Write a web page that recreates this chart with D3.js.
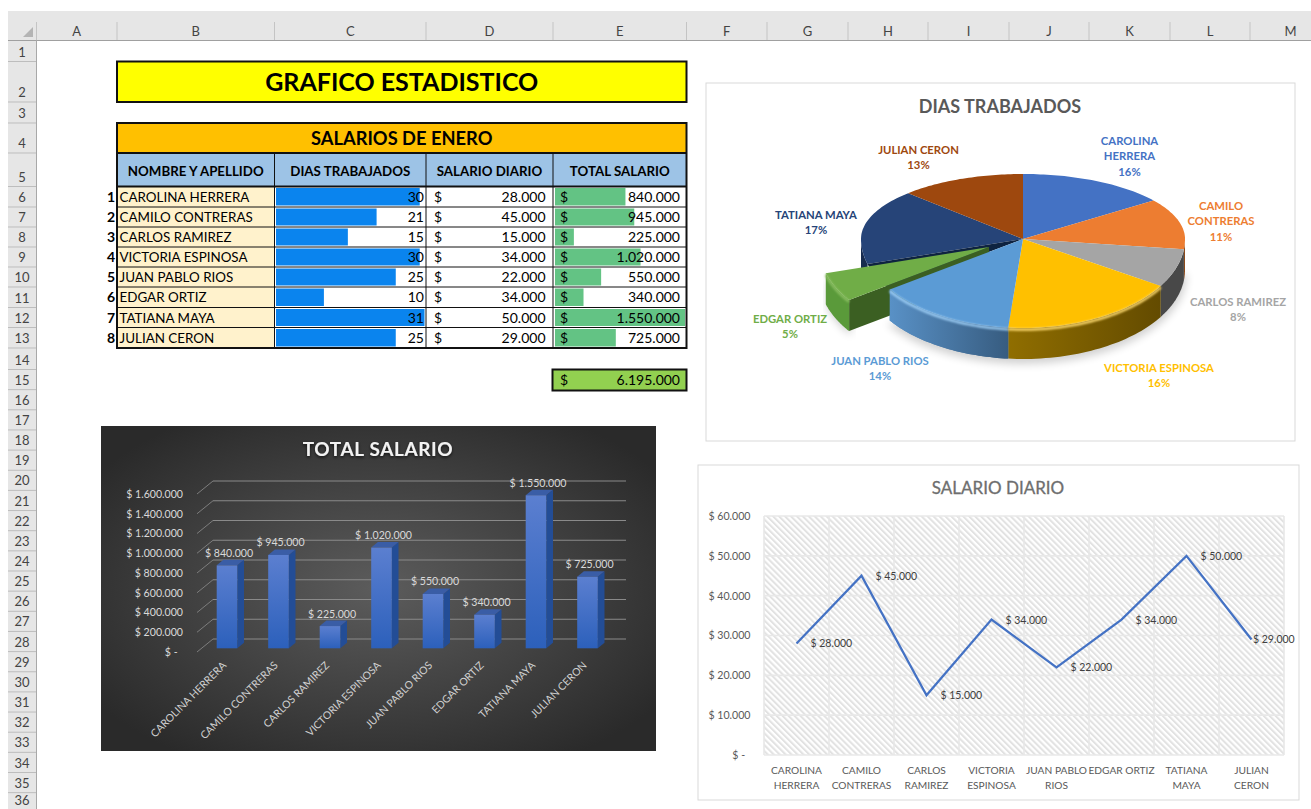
<!DOCTYPE html>
<html>
<head>
<meta charset="utf-8">
<script src="https://cdn.jsdelivr.net/npm/d3@7"></script>
<style>
  html, body { margin: 0; padding: 0; background: #fff; overflow: hidden; }
  text { font-family: Lato, "Open Sans", sans-serif; }
</style>
</head>
<body>
<div id="sheet"></div>
<script>
// Values read from the worksheet
const names = ["CAROLINA HERRERA", "CAMILO CONTRERAS", "CARLOS RAMIREZ", "VICTORIA ESPINOSA",
               "JUAN PABLO RIOS", "EDGAR ORTIZ", "TATIANA MAYA", "JULIAN CERON"];
const diasTrabajados = [30, 21, 15, 30, 25, 10, 31, 25];
const salarioDiario = [28000, 45000, 15000, 34000, 22000, 34000, 50000, 29000];
const totalSalario = [840000, 945000, 225000, 1020000, 550000, 340000, 1550000, 725000];
const granTotal = 6195000;
const tableHeaders = ["NOMBRE Y APELLIDO", "DIAS TRABAJADOS", "SALARIO DIARIO", "TOTAL SALARIO"];
const piePercentLabels = ["16%", "11%", "8%", "16%", "14%", "5%", "17%", "13%"];
const pieNameLines = [["CAROLINA", "HERRERA"], ["CAMILO", "CONTRERAS"], ["CARLOS RAMIREZ"], ["VICTORIA ESPINOSA"],
                      ["JUAN PABLO RIOS"], ["EDGAR ORTIZ"], ["TATIANA MAYA"], ["JULIAN CERON"]];
const lineNameLines = [["CAROLINA", "HERRERA"], ["CAMILO", "CONTRERAS"], ["CARLOS", "RAMIREZ"], ["VICTORIA", "ESPINOSA"],
                       ["JUAN PABLO", "RIOS"], ["EDGAR ORTIZ"], ["TATIANA", "MAYA"], ["JULIAN", "CERON"]];
const totalTicks = [0, 200000, 400000, 600000, 800000, 1000000, 1200000, 1400000, 1600000];
const diarioTicks = [0, 10000, 20000, 30000, 40000, 50000, 60000];
const columnLetters = ["A", "B", "C", "D", "E", "F", "G", "H", "I", "J", "K", "L", "M"];

// Layout of the sheet
const colEdges = [36.5, 117, 274.5, 426, 553, 686.5, 767, 848, 928, 1009, 1089, 1170, 1250, 1331];
const rowEdges = [40, 61.5, 102, 123, 153, 186.5, 207, 227, 247, 267, 287, 307.5, 327.5, 348];
for (let i = 14; i <= 36; i++) rowEdges.push(369.5 + (i - 14) * 20.15);

const pieColors = ["#4472c4", "#ed7d31", "#a5a5a5", "#ffc000", "#5b9bd5", "#70ad47", "#264478", "#9e480e"];
const pieLabelPos = [[1129.5, 140], [1221, 205], [1238, 301], [1159, 367], [880, 360], [790, 318], [816, 214], [918.5, 149]];

const es = d3.formatLocale({ decimal: ",", thousands: ".", grouping: [3], currency: ["$ ", ""] });
const miles = es.format(",d");
const pesos = v => v === 0 ? "$ -\u00a0\u00a0" : "$ " + miles(v);

const svg = d3.select("#sheet").append("svg")
              .attr("width", 1311)
              .attr("height", 809)
              .style("display", "block");
const defs = svg.append("defs");

drawSheetHeaders();
drawTable();
drawPie();
drawBars();
drawLine();

function drawSheetHeaders() {
    const g = svg.append("g");
    g.append("rect").attr("x", 8).attr("y", 11).attr("width", 1303).attr("height", 29).attr("fill", "#e6e6e6");
    g.append("rect").attr("x", 8).attr("y", 40).attr("width", 28.5).attr("height", 769).attr("fill", "#e6e6e6");
    g.append("path").attr("d", "M33 27 L33 37 L23 37 Z").attr("fill", "#b4b4b4");

    // column letters and separators
    g.selectAll("line.col").data(colEdges).enter().append("line")
     .attr("x1", d => d).attr("x2", d => d).attr("y1", 22).attr("y2", 40)
     .attr("stroke", "#c4c4c4");
    g.selectAll("text.col").data(columnLetters).enter().append("text")
     .attr("x", (d, i) => (colEdges[i] + colEdges[i + 1]) / 2)
     .attr("y", 35.5).attr("text-anchor", "middle")
     .attr("font-size", 13).attr("fill", "#444").text(d => d);
    g.append("line").attr("x1", 8).attr("x2", 1311).attr("y1", 40.5).attr("y2", 40.5).attr("stroke", "#a0a0a0");

    // row numbers and separators, the last one is kept inside the window
    g.selectAll("line.row").data(rowEdges.slice(1)).enter().append("line")
     .attr("x1", 8).attr("x2", 36.5).attr("y1", d => d).attr("y2", d => d)
     .attr("stroke", "#bdbdbd");
    g.selectAll("text.row").data(d3.range(1, 37)).enter().append("text")
     .attr("x", 22).attr("y", (d, i) => Math.min(rowEdges[i + 1] - 5, 805))
     .attr("text-anchor", "middle").attr("font-size", 13).attr("fill", "#444").text(d => d);
    g.append("line").attr("x1", 36.5).attr("x2", 36.5).attr("y1", 40).attr("y2", 809).attr("stroke", "#a8a8a8");
}

function drawTable() {
    const g = svg.append("g");
    const left = colEdges[1], right = colEdges[5];

    g.append("rect").attr("x", left).attr("y", 61.5).attr("width", right - left).attr("height", 40.5)
     .attr("fill", "#ffff00").attr("stroke", "#111").attr("stroke-width", 2);
    g.append("text").attr("x", (left + right) / 2).attr("y", 91).attr("text-anchor", "middle")
     .attr("font-size", 25).attr("font-weight", 700).attr("fill", "#000").text("GRAFICO ESTADISTICO");

    g.append("rect").attr("x", left).attr("y", 123).attr("width", right - left).attr("height", 30)
     .attr("fill", "#ffc000");
    g.append("text").attr("x", (left + right) / 2).attr("y", 145).attr("text-anchor", "middle")
     .attr("font-size", 18.3).attr("font-weight", 700).attr("fill", "#000").text("SALARIOS DE ENERO");

    const headCols = tableHeaders.map((d, i) => ({ label: d, x0: colEdges[i + 1], x1: colEdges[i + 2] }));
    g.selectAll("rect.head").data(headCols).enter().append("rect")
     .attr("x", d => d.x0).attr("y", 153).attr("width", d => d.x1 - d.x0).attr("height", 33.5)
     .attr("fill", "#9dc3e6");
    g.selectAll("text.head").data(headCols).enter().append("text")
     .attr("x", d => (d.x0 + d.x1) / 2).attr("y", 175.5).attr("text-anchor", "middle")
     .attr("font-size", 13.3).attr("font-weight", 700).attr("fill", "#000").text(d => d.label);

    const rowY = i => rowEdges[i + 5];
    const rowH = i => rowEdges[i + 6] - rowEdges[i + 5];

    g.selectAll("rect.name").data(names).enter().append("rect")
     .attr("x", left).attr("y", (d, i) => rowY(i)).attr("width", colEdges[2] - left).attr("height", (d, i) => rowH(i))
     .attr("fill", "#fff2cc");

    // data bars inside the cells
    const diasX = d3.scaleLinear().domain([0, 31]).range([276, 424.5]);
    const totalX = d3.scaleLinear().domain([0, 1550000]).range([555, 685]);
    g.selectAll("rect.dias").data(diasTrabajados).enter().append("rect")
     .attr("x", diasX(0)).attr("y", (d, i) => rowY(i) + 1.5)
     .attr("width", d => diasX(d) - diasX(0)).attr("height", (d, i) => rowH(i) - 3)
     .attr("fill", "#0a84ee");
    g.selectAll("rect.total").data(totalSalario).enter().append("rect")
     .attr("x", totalX(0)).attr("y", (d, i) => rowY(i) + 1.5)
     .attr("width", d => totalX(d) - totalX(0)).attr("height", (d, i) => rowH(i) - 3)
     .attr("fill", "#63c384");

    const cellText = (data, x, anchor, weight, size, fmt) => g.append("g").selectAll("text").data(data).enter().append("text")
     .attr("x", x).attr("y", (d, i) => rowY(i) + 15)
     .attr("text-anchor", anchor).attr("font-size", size).attr("font-weight", weight)
     .attr("fill", "#000").text(fmt);

    cellText(names, 119.5, "start", 400, 13.4, d => d);
    cellText(names, 115, "end", 700, 14, (d, i) => i + 1);
    cellText(diasTrabajados, 424, "end", 400, 14, d => d);
    cellText(salarioDiario, 434, "start", 400, 14, () => "$");
    cellText(salarioDiario, 545.5, "end", 400, 14, d => miles(d));
    cellText(totalSalario, 560, "start", 400, 14, () => "$");
    cellText(totalSalario, 680, "end", 400, 14, d => miles(d));

    // grid of the table
    const gridColor = "#111";
    rowEdges.slice(6, 13).forEach(y => {
        g.append("line").attr("x1", left).attr("x2", right).attr("y1", y).attr("y2", y).attr("stroke", gridColor);
    });
    colEdges.slice(2, 5).forEach(x => {
        g.append("line").attr("x1", x).attr("x2", x).attr("y1", 153).attr("y2", 348).attr("stroke", gridColor);
    });
    g.append("line").attr("x1", left).attr("x2", right).attr("y1", 153).attr("y2", 153).attr("stroke", gridColor).attr("stroke-width", 2);
    g.append("line").attr("x1", left).attr("x2", right).attr("y1", 186.5).attr("y2", 186.5).attr("stroke", gridColor).attr("stroke-width", 2);
    g.append("rect").attr("x", left).attr("y", 123).attr("width", right - left).attr("height", 225)
     .attr("fill", "none").attr("stroke", "#111").attr("stroke-width", 2);

    // total cell
    g.append("rect").attr("x", 552.5).attr("y", 369.5).attr("width", 134).attr("height", 21)
     .attr("fill", "#92d050").attr("stroke", "#111").attr("stroke-width", 2);
    g.append("text").attr("x", 560).attr("y", 385).attr("font-size", 14).attr("fill", "#000").text("$");
    g.append("text").attr("x", 680).attr("y", 385).attr("text-anchor", "end").attr("font-size", 14).attr("fill", "#000").text(miles(granTotal));
}

function drawPie() {
    const g = svg.append("g");
    g.append("rect").attr("x", 706).attr("y", 83).attr("width", 589).attr("height", 358)
     .attr("fill", "#fff").attr("stroke", "#d9d9d9");
    g.append("text").attr("x", 1000).attr("y", 113).attr("text-anchor", "middle")
     .attr("font-size", 18).attr("font-weight", 700).attr("fill", "#595959").text("DIAS TRABAJADOS");

    const cx = 1023, cy = 239, rx = 162, ryBack = 65, ryFront = 89, depth = 31;
    const edgar = 5;
    const explode = [-34, 8], explodeR = 1.05;

    // perspective pulls the slice edges a little, depending on the quadrant
    const warp = a => {
        const deg = Math.PI / 180;
        if (a < Math.PI / 2) return a - 4.5 * deg * Math.sin(2 * a);
        if (a < Math.PI) return a - 5.5 * deg * Math.sin(2 * (a - Math.PI / 2));
        if (a < Math.PI * 1.5) return a + 2.5 * deg * Math.sin(2 * (a - Math.PI));
        return a + 3 * deg * Math.sin(2 * (a - Math.PI * 1.5));
    };
    // tilted pie: the near half of the disc is drawn taller than the far half
    const project = (a0, r = 1, off = [0, 0]) => {
        const a = warp(a0), c = Math.cos(a);
        return [cx + rx * r * Math.sin(a) + off[0], cy - c * (c > 0 ? ryBack : ryFront) * r + off[1]];
    };
    const arcPoints = (a0, a1, r, off) => d3.range(0, 41).map(k => project(a0 + (a1 - a0) * k / 40, r, off));
    const toPath = pts => "M" + pts.map(p => p[0].toFixed(1) + " " + p[1].toFixed(1)).join("L") + "Z";
    const topFace = (s, r, off = [0, 0]) => toPath([[cx + off[0], cy + off[1]], ...arcPoints(s.startAngle, s.endAngle, r, off)]);
    const wall = (a0, a1, r, off = [0, 0]) => {
        const pts = arcPoints(a0, a1, r, off);
        return toPath([...pts, ...pts.slice().reverse().map(p => [p[0], p[1] + depth])]);
    };

    const slices = d3.pie().sort(null)(diasTrabajados);

    const hGrad = (id, x0, x1, c0, c1) => {
        const lg = defs.append("linearGradient").attr("id", id).attr("gradientUnits", "userSpaceOnUse")
                       .attr("x1", x0).attr("x2", x1).attr("y1", 0).attr("y2", 0);
        lg.append("stop").attr("offset", 0).attr("stop-color", c0);
        lg.append("stop").attr("offset", 1).attr("stop-color", c1);
    };
    hGrad("wallJuan", 885, 1008, "#5a93c9", "#375c80");
    hGrad("wallYellow", 1008, 1165, "#906e00", "#624a00");
    defs.append("filter").attr("id", "soft").attr("x", "-20%").attr("y", "-20%").attr("width", "140%").attr("height", "140%")
        .append("feGaussianBlur").attr("stdDeviation", 4);
    defs.append("filter").attr("id", "rim").attr("x", "-10%").attr("y", "-10%").attr("width", "120%").attr("height", "120%")
        .append("feGaussianBlur").attr("stdDeviation", 0.9);

    // soft shadow under the disc
    const shadowArc = arcPoints(Math.PI / 2, Math.PI * 1.3, 1.01, [0, depth + 4]);
    g.append("path").attr("d", toPath(shadowArc)).attr("fill", "#000").attr("opacity", 0.18).attr("filter", "url(#soft)");

    const wallFill = ["#26457c", "#8c4a1a", "#484848", "url(#wallYellow)", "url(#wallJuan)", "#5a9a3a", "#172b4f", "#5f2b08"];
    const frontStart = Math.PI / 2;
    const frontEnd = Math.PI * 1.5;

    // far and side walls that stay behind the pulled out slice
    slices.forEach((s, i) => {
        if (i === edgar) return;
        const a0 = Math.max(s.startAngle, frontStart), a1 = Math.min(s.endAngle, frontEnd);
        if (a1 > a0) g.append("path").attr("d", wall(a0, a1, 1)).attr("fill", wallFill[i]);
    });

    slices.forEach((s, i) => {
        if (i === edgar || i === 4) return;
        g.append("path").attr("d", topFace(s, 1)).attr("fill", pieColors[i]);
    });

    // dark gap left by the pulled out slice
    g.append("path").attr("d", topFace(slices[edgar], 1)).attr("fill", "#0e2340");

    // pulled out slice: shadow, cut side, outer wall, top
    const sE = slices[edgar];
    const inner = [cx + explode[0], cy + explode[1]];
    const corner = project(sE.startAngle, explodeR, explode);
    g.append("path").attr("d", wall(sE.startAngle, sE.endAngle, explodeR, explode))
     .attr("fill", "#000").attr("opacity", 0.2).attr("filter", "url(#soft)").attr("transform", "translate(2,4)");
    g.append("path")
     .attr("d", toPath([inner, corner, [corner[0], corner[1] + depth], [inner[0], inner[1] + depth]]))
     .attr("fill", "#3b5f22");
    g.append("path").attr("d", wall(sE.startAngle, sE.endAngle, explodeR, explode)).attr("fill", wallFill[edgar]);
    g.append("path").attr("d", topFace(sE, explodeR, explode)).attr("fill", pieColors[edgar]);

    // juan sits on top of the green cut side
    const sJ = slices[4];
    g.append("path").attr("d", wall(sJ.startAngle, sJ.endAngle, 1)).attr("fill", wallFill[4]);
    g.append("path").attr("d", topFace(sJ, 1)).attr("fill", pieColors[4]);

    // bright bevel on the front rim
    const rimLine = d3.line();
    [[sJ, "#9ccdf5"], [slices[3], "#ffdb70"], [sE, "#8cc063"]].forEach(([s, c]) => {
        const isE = s === sE;
        g.append("path")
         .attr("d", rimLine(arcPoints(s.startAngle, s.endAngle, isE ? explodeR : 1, isE ? explode : [0, 0]).map(p => [p[0], p[1] + 1.5])))
         .attr("fill", "none").attr("stroke", c).attr("stroke-width", 2.5).attr("filter", "url(#rim)");
    });

    // labels
    const labels = g.selectAll("g.lab").data(names).enter().append("g");
    labels.each(function (d, i) {
        const lines = pieNameLines[i].concat(piePercentLabels[i]);
        d3.select(this).selectAll("text").data(lines).enter().append("text")
          .attr("x", pieLabelPos[i][0])
          .attr("y", (t, k) => pieLabelPos[i][1] + k * 15.6 + 4.5)
          .attr("text-anchor", "middle")
          .attr("font-size", 11.3).attr("font-weight", 700)
          .attr("fill", pieColors[i]).text(t => t);
    });
}

function drawBars() {
    const g = svg.append("g");
    const bg = defs.append("radialGradient").attr("id", "darkPanel").attr("cx", "50%").attr("cy", "50%").attr("r", "62%");
    bg.append("stop").attr("offset", 0).attr("stop-color", "#5c5c5c");
    bg.append("stop").attr("offset", 1).attr("stop-color", "#2a2a2a");
    const barGrad = defs.append("linearGradient").attr("id", "barFace").attr("x1", 0).attr("x2", 0).attr("y1", 0).attr("y2", 1);
    barGrad.append("stop").attr("offset", 0).attr("stop-color", "#5b7fd0");
    barGrad.append("stop").attr("offset", 1).attr("stop-color", "#2c60bb");
    const glow = defs.append("filter").attr("id", "titleShadow").attr("x", "-10%").attr("y", "-30%").attr("width", "120%").attr("height", "170%");
    glow.append("feDropShadow").attr("dx", 0).attr("dy", 1.5).attr("stdDeviation", 1.5).attr("flood-color", "#000").attr("flood-opacity", 0.7);

    g.append("rect").attr("x", 101).attr("y", 426).attr("width", 555).attr("height", 325).attr("fill", "url(#darkPanel)");
    g.append("text").attr("x", 378).attr("y", 456).attr("text-anchor", "middle").attr("filter", "url(#titleShadow)")
     .attr("font-size", 19).attr("font-weight", 700).attr("letter-spacing", 0.6).attr("fill", "#f2f2f2").text("TOTAL SALARIO");

    const yBase = d3.scaleLinear().domain([0, 1600000]).range([648.3, 490.3]);
    const yFront = d3.scaleLinear().domain([0, 1600000]).range([652, 494]);
    const yBack = d3.scaleLinear().domain([0, 1600000]).range([639, 481]);
    const x = d3.scaleBand().domain(names).range([201.25, 613.25]).paddingInner(0.6).paddingOuter(0.3);
    const depthX = 6.7, depthY = 5.5;

    // back wall lines and their slant to the front axis
    g.selectAll("line.back").data(totalTicks).enter().append("line")
     .attr("x1", 213).attr("x2", 626).attr("y1", d => yBack(d)).attr("y2", d => yBack(d))
     .attr("stroke", "#8a8a8a").attr("stroke-width", 1.2);
    g.selectAll("line.slant").data(totalTicks).enter().append("line")
     .attr("x1", 197).attr("x2", 213).attr("y1", d => yFront(d)).attr("y2", d => yBack(d))
     .attr("stroke", "#7d7d7d").attr("stroke-width", 1);

    const yAxis = g.append("g").attr("transform", "translate(183,0)")
     .call(d3.axisLeft(yFront).tickValues(totalTicks).tickSize(0).tickPadding(0).tickFormat(pesos));
    yAxis.select(".domain").remove();
    yAxis.selectAll("text").attr("font-size", 10.6).attr("font-family", "Lato").attr("fill", "#d9d9d9");

    const bars = g.selectAll("g.bar").data(totalSalario).enter().append("g");
    bars.append("path")
        .attr("d", (d, i) => {
            const x1 = x(names[i]) + x.bandwidth();
            return `M${x1} ${yBase(d)}L${x1 + depthX} ${yBase(d) - depthY}L${x1 + depthX} ${yBase(0) - depthY}L${x1} ${yBase(0)}Z`;
        })
        .attr("fill", "#234d96");
    bars.append("path")
        .attr("d", (d, i) => {
            const x0 = x(names[i]), x1 = x0 + x.bandwidth();
            return `M${x0} ${yBase(d)}L${x0 + depthX} ${yBase(d) - depthY}L${x1 + depthX} ${yBase(d) - depthY}L${x1} ${yBase(d)}Z`;
        })
        .attr("fill", "#3a5da6");
    bars.append("rect")
        .attr("x", (d, i) => x(names[i])).attr("y", d => yBase(d))
        .attr("width", x.bandwidth()).attr("height", d => yBase(0) - yBase(d))
        .attr("fill", "url(#barFace)");
    bars.append("text")
        .attr("x", (d, i) => x(names[i]) + x.bandwidth() / 2 + 2)
        .attr("y", d => yBase(d) - 8.5)
        .attr("text-anchor", "middle").attr("font-size", 10.6).attr("fill", "#d9d9d9")
        .text(pesos);

    const xAxis = g.append("g").attr("transform", "translate(0,652)")
     .call(d3.axisBottom(x).tickSize(0).tickPadding(0));
    xAxis.select(".domain").remove();
    xAxis.selectAll("text")
     .attr("font-size", 10.5).attr("font-family", "Lato").attr("fill", "#d0d0d0")
     .attr("text-anchor", "end").attr("dy", 0)
     .attr("transform", "translate(0,14) rotate(-45)");
}

function drawLine() {
    const g = svg.append("g");
    const hatch = defs.append("pattern").attr("id", "hatch").attr("patternUnits", "userSpaceOnUse")
                      .attr("width", 4.2).attr("height", 4.2).attr("patternTransform", "rotate(-45)");
    hatch.append("rect").attr("width", 4.2).attr("height", 4.2).attr("fill", "#fff");
    hatch.append("rect").attr("width", 2).attr("height", 4.2).attr("fill", "#e2e2e2");

    g.append("rect").attr("x", 698).attr("y", 465).attr("width", 601).attr("height", 335)
     .attr("fill", "#fff").attr("stroke", "#d9d9d9");
    g.append("text").attr("x", 998).attr("y", 493.5).attr("text-anchor", "middle")
     .attr("font-size", 17).attr("fill", "#6e6e6e").attr("stroke", "#6e6e6e").attr("stroke-width", 0.3).text("SALARIO DIARIO");

    const x = d3.scaleBand().domain(names).range([764, 1284]);
    const y = d3.scaleLinear().domain([0, 60000]).range([755, 516]);
    const px = d => x(d) + x.bandwidth() / 2;

    g.append("rect").attr("x", 764).attr("y", 516).attr("width", 520).attr("height", 239).attr("fill", "url(#hatch)");

    g.selectAll("line.hgrid").data(diarioTicks).enter().append("line")
     .attr("x1", 764).attr("x2", 1284).attr("y1", d => y(d)).attr("y2", d => y(d))
     .attr("stroke", "#e8e8e8").attr("stroke-width", 1.6);
    g.selectAll("line.vgrid").data(names.concat("end")).enter().append("line")
     .attr("x1", (d, i) => i === 8 ? 1284 : x(d)).attr("x2", (d, i) => i === 8 ? 1284 : x(d))
     .attr("y1", 516).attr("y2", 755)
     .attr("stroke", "#e8e8e8").attr("stroke-width", 1.6);

    const yAxis = g.append("g").attr("transform", "translate(750.5,0)")
     .call(d3.axisLeft(y).tickValues(diarioTicks).tickSize(0).tickPadding(0).tickFormat(pesos));
    yAxis.select(".domain").remove();
    yAxis.selectAll("text").attr("font-size", 10.6).attr("font-family", "Lato").attr("fill", "#595959");

    const line = d3.line().x((d, i) => px(names[i])).y(d => y(d));
    g.append("path").datum(salarioDiario).attr("d", line)
     .attr("fill", "none").attr("stroke", "#4472c4").attr("stroke-width", 2.25);

    g.selectAll("text.val").data(salarioDiario).enter().append("text")
     .attr("x", (d, i) => px(names[i]) + (i === salarioDiario.length - 1 ? 1.5 : 14))
     .attr("y", d => y(d) + 4)
     .attr("font-size", 10.5).attr("fill", "#404040").text(pesos);

    names.forEach((n, i) => {
        g.selectAll(null).data(lineNameLines[i]).enter().append("text")
         .attr("x", px(n)).attr("y", (t, k) => 773.5 + k * 15)
         .attr("text-anchor", "middle").attr("font-size", 10.2).attr("fill", "#595959").text(t => t);
    });
}
</script>
</body>
</html>
